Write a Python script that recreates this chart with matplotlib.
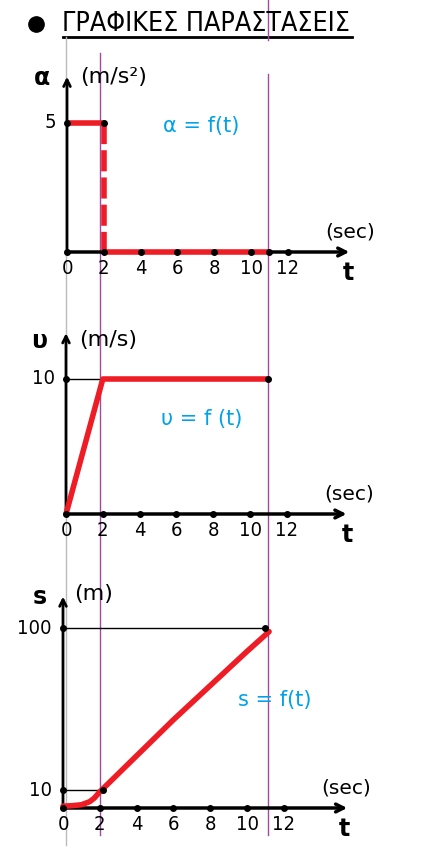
import matplotlib
matplotlib.use('Agg')
import matplotlib.pyplot as plt

plt.rcParams['font.family'] = ['DejaVu Sans']

# data
t_ticks = [0, 2, 4, 6, 8, 10, 12]

# acceleration
a_t = [0, 2, 2, 11]
a_val = [5, 5, 0, 0]

# velocity
u_t = [0, 2, 11]
u_val = [0, 10, 10]

# position (hand drawn curve)
s_t = [0, 0.5, 1.0, 1.45, 1.7, 2.0, 2.3, 4, 6, 8, 10, 11.2]
s_val = [1, 1.3, 1.8, 3.5, 5.5, 9.0, 12, 29, 49, 68, 87, 98]

RED = '#ee1c24'
BLUE = '#00a2e8'
PURPLE = '#a349a4'
W, H = 443, 859

fig = plt.figure(figsize=(W / 100, H / 100), dpi=100)

# decorations in pixel space
bg = fig.add_axes([0, 0, 1, 1])
bg.set_xlim(0, W)
bg.set_ylim(H, 0)
bg.axis('off')
bg.plot([36], [24], 'o', color='black', ms=11)
bg.text(62, 24, 'ΓΡΑΦΙΚΕΣ ΠΑΡΑΣΤΑΣΕΙΣ', fontsize=19.2, va='center', ha='left',
        fontstretch='condensed')
bg.plot([63, 352], [37, 37], color='black', lw=2)
bg.plot([66, 66], [37, 845], color='#bbbbbb', lw=1)
bg.plot([100, 100], [53, 835], color=PURPLE, lw=1)
bg.plot([268, 268], [0, 40], color=PURPLE, lw=1)
bg.plot([268, 268], [74, 835], color=PURPLE, lw=1)


def make_axes(ox, oy, sx, sy, xlim, ylim):
    left = ox + xlim[0] * sx
    width = (xlim[1] - xlim[0]) * sx
    bottom = oy - ylim[0] * sy
    height = (ylim[1] - ylim[0]) * sy
    ax = fig.add_axes([left / W, 1 - bottom / H, width / W, height / H])
    ax.set_xlim(*xlim)
    ax.set_ylim(*ylim)
    ax.axis('off')
    ax.patch.set_alpha(0)
    return ax


def draw_frame(ax, ytop, xend, yticks, ytick_labels, sy):
    ax.annotate('', xy=(xend, 0), xytext=(0, 0),
                arrowprops=dict(arrowstyle='->', lw=2.5, color='black',
                                mutation_scale=14))
    ax.annotate('', xy=(0, ytop), xytext=(0, 0),
                arrowprops=dict(arrowstyle='->', lw=2, color='black',
                                mutation_scale=12))
    ax.plot(t_ticks, [0] * len(t_ticks), 'o', color='black', ms=4, zorder=5)
    for tk in t_ticks:
        ax.text(tk, -17 / sy, str(tk), ha='center', va='center', fontsize=14.5,
                fontstretch='condensed')
    ax.plot([0] * len(yticks), yticks, 'o', color='black', ms=4, zorder=5)
    for yv, lab in zip(yticks, ytick_labels):
        ax.text(-0.6, yv, lab, ha='right', va='center', fontsize=14.5,
                fontstretch='condensed')
    ax.text(15.3, -21 / sy, 't', ha='center', va='center', fontsize=17, fontweight='bold')
    ax.text(15.4, 20 / sy, '(sec)', ha='center', va='center', fontsize=14.5)


# chart 1: a = f(t)
sx = 18.4
sy1 = 25.8
ax1 = make_axes(67, 252, sx, sy1, (-3.6, 17.6), (-3.4, 7.2))
draw_frame(ax1, 6.9, 15.5, [5], ['5'], sy1)
ax1.plot(a_t[:2], a_val[:2], color=RED, lw=4, solid_capstyle='butt', zorder=4)
ax1.plot(a_t[1:3], a_val[1:3], color=RED, lw=4, ls=(0, (3.8, 1.1)), zorder=4)
ax1.plot(a_t[2:], a_val[2:], color=RED, lw=4, solid_capstyle='butt', zorder=4)
ax1.plot([2, 11], [5, 0], 'o', color='black', ms=4, zorder=5)
ax1.text(-0.9, 6.75, 'α', ha='right', va='center', fontsize=17, fontweight='bold')
ax1.text(0.7, 6.8, '(m/s²)', ha='left', va='center', fontsize=16)
ax1.text(7.3, 4.9, 'α = f(t)', ha='center', va='center', fontsize=15, color=BLUE)

# chart 2: u = f(t)
sy2 = 13.5
ax2 = make_axes(66, 514, sx, sy2, (-3.6, 17.6), (-4.0, 13.8))
draw_frame(ax2, 13.6, 15.4, [10], ['10'], sy2)
ax2.plot([0, 2], [10, 10], color='black', lw=1, zorder=3)
ax2.plot(u_t, u_val, color=RED, lw=4, solid_capstyle='round', zorder=4)
ax2.plot([11], [10], 'o', color='black', ms=4, zorder=5)
ax2.text(-1.0, 12.8, 'υ', ha='right', va='center', fontsize=17, fontweight='bold')
ax2.text(0.7, 12.9, '(m/s)', ha='left', va='center', fontsize=16)
ax2.text(7.4, 7.0, 'υ = f (t)', ha='center', va='center', fontsize=15, color=BLUE)

# chart 3: s = f(t)
sy3 = 1.8
ax3 = make_axes(63, 808, sx, sy3, (-3.6, 17.6), (-28, 123))
draw_frame(ax3, 119, 15.6, [10, 100], ['10', '100'], sy3)
ax3.plot([0, 11], [100, 100], color='black', lw=1, zorder=3)
ax3.plot([0, 2.2], [10, 10], color='black', lw=1, zorder=3)
ax3.plot(s_t, s_val, color=RED, lw=4, solid_capstyle='round', zorder=4)
ax3.plot([11, 2.2], [100, 10], 'o', color='black', ms=4, zorder=5)
ax3.text(-0.9, 117, 's', ha='right', va='center', fontsize=17, fontweight='bold')
ax3.text(0.6, 119, '(m)', ha='left', va='center', fontsize=16)
ax3.text(11.5, 60, 's = f(t)', ha='center', va='center', fontsize=15, color=BLUE)

fig.savefig('out.png', dpi=100)
